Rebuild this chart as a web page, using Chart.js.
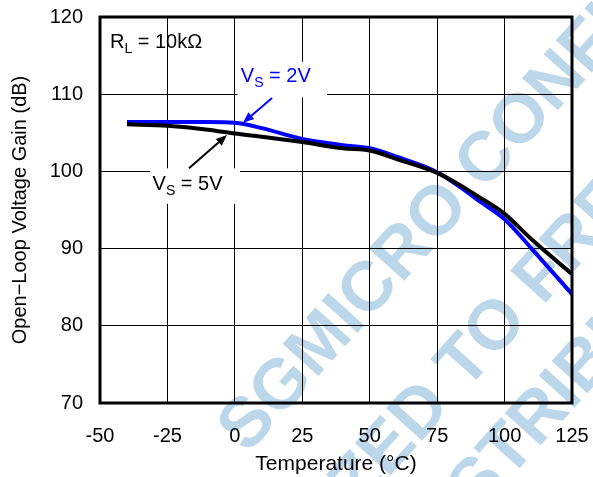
<!DOCTYPE html>
<html>
<head>
<meta charset="utf-8">
<script src="https://cdn.jsdelivr.net/npm/chart.js@4/dist/chart.umd.min.js"></script>
<style>
  html, body { margin: 0; padding: 0; background: #fff; }
  #wrap { width: 593px; height: 477px; }
</style>
</head>
<body>
<div id="wrap"><canvas id="c" width="593" height="477"></canvas></div>
<script>
// ---- data ----
const temps   = [-40, -25, -10, 0, 10, 25, 40, 50, 60, 75, 85, 90, 100, 110, 125];
const gain2V  = [106.4, 106.4, 106.4, 106.3, 105.6, 104.2, 103.4, 103.0, 101.9, 99.9, 97.6, 96.3, 93.8, 90.0, 84.1];
const gain5V  = [106.1, 105.9, 105.4, 104.9, 104.5, 103.8, 103.0, 102.7, 101.6, 99.8, 97.9, 96.8, 94.5, 91.2, 86.7];
const xTicks  = [-50, -25, 0, 25, 50, 75, 100, 125];
const yTicks  = [70, 80, 90, 100, 110, 120];
const seriesNames = ['VS = 5V', 'VS = 2V'];
const xTitle = 'Temperature (°C)';
const yTitle = 'Open\u2212Loop Voltage Gain (dB)';
const watermarkLines = ['SGMICRO CONFIDENTIAL', 'AUTHORIZED TO FREE', 'DISTRIBUTE'];

const FONT = "'Liberation Sans', Arial, Helvetica, sans-serif";
const BLUE = '#0000ff';

function pts(ys) { return temps.map((t, i) => ({ x: t, y: ys[i] })); }

// annotation placements (data coordinates)
const notes = [
  { main: 'R', sub: 'L', rest: ' = 10k\u03A9', x: -46.3, y: 116.0, color: '#000' },
  { main: 'V', sub: 'S', rest: ' = 2V', x: 2.2, y: 111.6, color: BLUE,
    box: [1.0, 114.2, 34.2, 109.6], arrow: [13.8, 109.5, 3.0, 106.3] },
  { main: 'V', sub: 'S', rest: ' = 5V', x: -30.5, y: 97.6, color: '#000',
    box: [-31.5, 100.4, 1.9, 95.8], arrow: [-17.0, 100.4, -2.9, 104.7] }
];

const bgPlugin = {
  id: 'bg',
  beforeDraw(chart) {
    const ctx = chart.ctx;
    ctx.save();
    ctx.fillStyle = '#fff';
    ctx.fillRect(0, 0, chart.width, chart.height);
    // watermark
    const ang = -48 * Math.PI / 180;
    const ux = Math.cos(ang), uy = Math.sin(ang);
    ctx.font = 'bold 70px ' + FONT;
    ctx.fillStyle = '#bdd7ea';
    ctx.textBaseline = 'middle';
    ctx.textAlign = 'left';
    const anchors = [[0, 8, 487, 160], [1, 12, 498, 327], [2, 4, 540, 417]];
    anchors.forEach(([li, ci, px, py]) => {
      const txt = watermarkLines[li];
      const pre = ctx.measureText(txt.slice(0, ci)).width;
      const cw = ctx.measureText(txt[ci]).width;
      const off = pre + cw / 2;
      const sx = px - ux * off, sy = py - uy * off;
      ctx.save();
      ctx.translate(sx, sy);
      ctx.rotate(ang);
      ctx.fillText(txt, 0, 0);
      ctx.restore();
    });
    ctx.restore();
  }
};

function arrow(ctx, x1, y1, x2, y2, color) {
  const a = Math.atan2(y2 - y1, x2 - x1);
  const L = 11, W = 4.5;
  const bx = x2 - L * Math.cos(a), by = y2 - L * Math.sin(a);
  ctx.strokeStyle = color; ctx.fillStyle = color; ctx.lineWidth = 2;
  ctx.beginPath(); ctx.moveTo(x1, y1); ctx.lineTo(bx, by); ctx.stroke();
  ctx.beginPath();
  ctx.moveTo(x2, y2);
  ctx.lineTo(bx + W * Math.sin(a), by - W * Math.cos(a));
  ctx.lineTo(bx - W * Math.sin(a), by + W * Math.cos(a));
  ctx.closePath(); ctx.fill();
}

const notePlugin = {
  id: 'notes',
  beforeDatasetsDraw(chart) {
    const ctx = chart.ctx, xs = chart.scales.x, ys = chart.scales.y;
    ctx.save();
    notes.forEach(n => {
      if (n.box) {
        const x1 = xs.getPixelForValue(n.box[0]), y1 = ys.getPixelForValue(n.box[1]);
        const x2 = xs.getPixelForValue(n.box[2]), y2 = ys.getPixelForValue(n.box[3]);
        ctx.fillStyle = '#fff';
        ctx.fillRect(x1, y1, x2 - x1, y2 - y1);
      }
    });
    ctx.restore();
  },
  afterDatasetsDraw(chart) {
    const ctx = chart.ctx, xs = chart.scales.x, ys = chart.scales.y;
    ctx.save();
    notes.forEach(n => {
      let x = xs.getPixelForValue(n.x);
      const y = ys.getPixelForValue(n.y);
      ctx.fillStyle = n.color;
      ctx.textBaseline = 'alphabetic';
      ctx.textAlign = 'left';
      ctx.font = '20px ' + FONT;
      ctx.fillText(n.main, x, y);
      x += ctx.measureText(n.main).width;
      ctx.font = '14px ' + FONT;
      ctx.fillText(n.sub, x, y + 5);
      x += ctx.measureText(n.sub).width;
      ctx.font = '20px ' + FONT;
      ctx.fillText(n.rest, x, y);
      if (n.arrow) {
        arrow(ctx, xs.getPixelForValue(n.arrow[0]), ys.getPixelForValue(n.arrow[1]),
                   xs.getPixelForValue(n.arrow[2]), ys.getPixelForValue(n.arrow[3]), n.color);
      }
    });
    const a = chart.chartArea;
    ctx.strokeStyle = '#000';
    ctx.lineWidth = 3;
    ctx.strokeRect(a.left, a.top, a.right - a.left, a.bottom - a.top);
    ctx.restore();
  }
};

function zeroPad(s) { s.paddingLeft = 0; s.paddingRight = 0; s.paddingTop = 0; s.paddingBottom = 0; }

new Chart(document.getElementById('c'), {
  type: 'line',
  data: {
    datasets: [
      { label: seriesNames[0], data: pts(gain5V), borderColor: '#000', borderWidth: 4,
        pointRadius: 0, cubicInterpolationMode: 'monotone', fill: false },
      { label: seriesNames[1], data: pts(gain2V), borderColor: BLUE, borderWidth: 4,
        pointRadius: 0, cubicInterpolationMode: 'monotone', fill: false }
    ]
  },
  options: {
    responsive: false,
    animation: false,
    devicePixelRatio: 1,
    layout: { padding: { top: 17, right: 21, left: 0, bottom: 0 } },
    plugins: { legend: { display: false }, tooltip: { enabled: false } },
    scales: {
      x: {
        type: 'linear', min: -50, max: 125,
        afterBuildTicks(s) { s.ticks = xTicks.map(v => ({ value: v })); },
        afterFit(s) { s.height = 74; zeroPad(s); },
        grid: { color: '#000', lineWidth: 1, drawTicks: false },
        border: { display: false },
        ticks: { color: '#000', font: { family: FONT, size: 20 }, padding: 21, maxRotation: 0 },
        title: { display: true, text: xTitle, color: '#000', font: { family: FONT, size: 21, lineHeight: 1.2 },
                 padding: { top: 0, bottom: 0 } }
      },
      y: {
        type: 'linear', min: 70, max: 120,
        afterBuildTicks(s) { s.ticks = yTicks.map(v => ({ value: v })); },
        afterFit(s) { s.width = 100; zeroPad(s); },
        grid: { color: '#000', lineWidth: 1, drawTicks: false },
        border: { display: false },
        ticks: { color: '#000', font: { family: FONT, size: 20 }, padding: 17 },
        title: { display: true, text: yTitle, color: '#000', font: { family: FONT, size: 20, lineHeight: 1.2 },
                 padding: { top: 8, bottom: 0 } }
      }
    }
  },
  plugins: [bgPlugin, notePlugin]
});
</script>
</body>
</html>
